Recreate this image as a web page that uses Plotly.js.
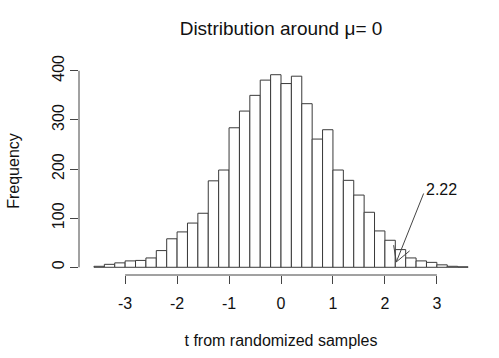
<!DOCTYPE html>
<html>
<head>
<meta charset="utf-8">
<script src="https://cdn.plot.ly/plotly-3.0.1.min.js"></script>
<style>html,body{margin:0;padding:0;background:#fff;}#chart{width:499px;height:358px;}</style>
</head>
<body>
<div id="chart"></div>
<script>
// Histogram of t statistics from randomized samples
const breaks = [-3.6,-3.4,-3.2,-3.0,-2.8,-2.6,-2.4,-2.2,-2.0,-1.8,-1.6,-1.4,-1.2,-1.0,-0.8,-0.6,-0.4,-0.2,0.0,
                0.2,0.4,0.6,0.8,1.0,1.2,1.4,1.6,1.8,2.0,2.2,2.4,2.6,2.8,3.0,3.2,3.4,3.6];
const counts = [2,6,9,13,14,19,34,58,72,90,110,176,198,284,318,350,381,392,
                374,389,333,261,280,198,177,147,112,74,55,36,19,13,10,5,2,1];
const xTickVals = [-3,-2,-1,0,1,2,3];
const yTickVals = [0,100,200,300,400];
const observedT = 2.22;
const observedLabel = "2.22";
const arrowTipCount = 11;

const mids = counts.map((c,i)=> (breaks[i]+breaks[i+1])/2);
const widths = counts.map((c,i)=> breaks[i+1]-breaks[i]);

const FONT = "Liberation Sans, Arial, Helvetica, sans-serif";

const trace = {
  type: 'bar',
  x: mids,
  y: counts,
  width: widths,
  marker: {color: '#ffffff', line: {color: '#3a3a3a', width: 1}},
  hoverinfo: 'x+y'
};

const layout = {
  width: 499, height: 358,
  margin: {l: 78.5, r: 16, t: 66.7, b: 83},
  paper_bgcolor: '#ffffff', plot_bgcolor: '#ffffff',
  font: {family: FONT, size: 16, color: '#111'},
  showlegend: false,
  bargap: 0,
  title: {text: 'Distribution around μ= 0', font: {family: FONT, size: 19, color: '#111'},
          x: 0.5, xref: 'paper', xanchor: 'center', y: 1 - 28/358, yref: 'container', yanchor: 'middle'},
  xaxis: {
    range: [-3.888, 3.888], tickvals: xTickVals, ticktext: xTickVals.map(String),
    showgrid: false, zeroline: false, showline: false,
    ticks: 'outside', ticklen: 8, tickwidth: 1, tickcolor: '#444',
    tickfont: {family: FONT, size: 16, color: '#111'}, ticklabelstandoff: 6,
    title: {text: 't from randomized samples', font: {family: FONT, size: 16, color: '#111'}, standoff: 23}
  },
  yaxis: {
    range: [-15.7, 407.7], tickvals: yTickVals, ticktext: yTickVals.map(String),
    showgrid: false, zeroline: false, showline: false,
    ticks: 'outside', ticklen: 8, tickwidth: 1, tickcolor: '#444', tickangle: -90,
    tickfont: {family: FONT, size: 16, color: '#111'}, ticklabelstandoff: 0,
    title: {text: 'Frequency', font: {family: FONT, size: 16, color: '#111'}, standoff: 25}
  },
  shapes: [
    {type: 'line', xref: 'x', yref: 'paper', x0: xTickVals[0], x1: xTickVals[xTickVals.length-1], y0: 0, y1: 0,
     line: {color: '#444', width: 1}},
    {type: 'line', xref: 'paper', yref: 'y', x0: 0, x1: 0, y0: yTickVals[0], y1: yTickVals[yTickVals.length-1],
     line: {color: '#444', width: 1}},
    {type: 'path', xref: 'x', yref: 'y', xsizemode: 'pixel', ysizemode: 'pixel',
     xanchor: observedT, yanchor: arrowTipCount,
     path: 'M -2.7,16.7 L 0,0 L 13.3,11 M 0,0 L 27.3,68.4',
     line: {color: '#444', width: 1}}
  ],
  annotations: [
    {text: observedLabel, x: 2.76, y: 158, xref: 'x', yref: 'y', xanchor: 'left', yanchor: 'middle',
     showarrow: false, font: {family: FONT, size: 16, color: '#111'}}
  ]
};

Plotly.newPlot('chart', [trace], layout, {displayModeBar: false, staticPlot: true});
</script>
</body>
</html>
